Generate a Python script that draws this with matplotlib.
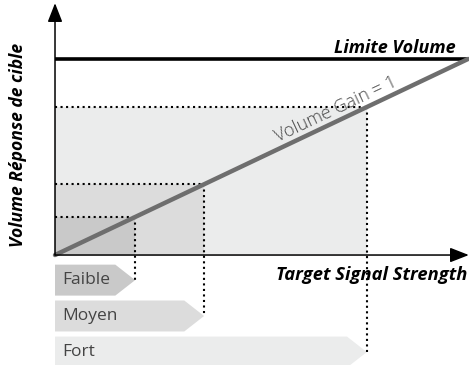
import matplotlib
matplotlib.use("Agg")
import matplotlib.pyplot as plt
from matplotlib.patches import Polygon, Rectangle, FancyArrowPatch

plt.rcParams['font.family'] = ['Open Sans', 'DejaVu Sans']

# signal strength levels (x) -> response volume (y), gain = 1
levels = ['Faible', 'Moyen', 'Fort']
signal = [19.4, 36.1, 75.5]
level_colors = ['#c9c9c9', '#dcdcdc', '#ebecec']
gain_x = [0, 100]
gain_y = [0, 100]
volume_limit = 100

# label strips below the axis
strip_y = [-12.8, -31.1, -49.5]
strip_h = 15.8
tip_w = 4.8

fig = plt.figure(figsize=(4.69, 3.65), dpi=100)
ax = fig.add_axes([0, 0, 1, 1])
ax.set_xlim(-13.32, 100.24)
ax.set_ylim(-56.1, 130.1)
ax.axis('off')

# shaded regions, biggest first
for x, c in sorted(zip(signal, level_colors), reverse=True):
    ax.add_patch(Rectangle((0, 0), x, x, facecolor=c, edgecolor='none', zorder=1))

# strips with arrow-shaped ends
for name, x, y, c in zip(levels, signal, strip_y, level_colors):
    pts = [(0, y - strip_h / 2), (x - tip_w, y - strip_h / 2), (x, y),
           (x - tip_w, y + strip_h / 2), (0, y + strip_h / 2)]
    ax.add_patch(Polygon(pts, closed=True, facecolor=c, edgecolor='none', zorder=1))
    ax.text(1.7, y, name, ha='left', va='center', fontsize=12.5, color='#444444')
    # dotted guides
    ax.plot([0, x], [x, x], color='black', ls=':', lw=1.5, zorder=3)
    ax.plot([x, x], [x, y], color='black', ls=':', lw=1.5, zorder=3)

# limit and gain lines
ax.plot([0, 100], [volume_limit, volume_limit], color='black', lw=2.6, zorder=4,
        solid_capstyle='butt')
ax.plot(gain_x, gain_y, color='#6e6e6e', lw=3.2, zorder=4, solid_capstyle='round')

# axes with arrows
for tip in [(0, 128.5), (100.2, 0)]:
    ax.add_patch(FancyArrowPatch((0, 0), tip, arrowstyle='-|>,head_length=1.15,head_width=0.45',
                                 mutation_scale=10, color='black', lw=1.1, zorder=5,
                                 shrinkA=0, shrinkB=0))

ax.text(96.9, 103, 'Limite Volume', ha='right', va='baseline', fontsize=13,
        fontweight='bold', fontstyle='italic')
ax.text(99.8, -12.8, 'Target Signal Strength', ha='right', va='baseline', fontsize=13.2,
        fontweight='bold', fontstyle='italic')
ax.text(-8.96, 56.1, 'Volume Réponse de cible', ha='center', va='center', rotation=90,
        fontsize=12.6, fontweight='bold', fontstyle='italic')
ax.text(68, 74.5, 'Volume Gain = 1', ha='center', va='center', rotation=25.2,
        rotation_mode='anchor', fontsize=13, fontweight='light', color='#4a4a4a')

fig.savefig('out.png', dpi=100)
